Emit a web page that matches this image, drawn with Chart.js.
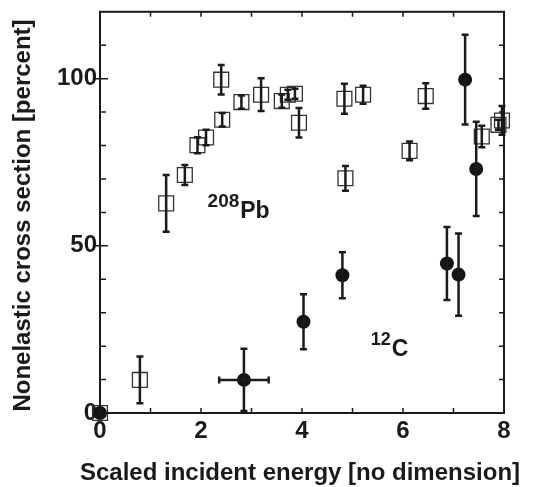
<!DOCTYPE html>
<html>
<head>
<meta charset="utf-8">
<script src="https://cdn.jsdelivr.net/npm/chart.js@4/dist/chart.umd.min.js"></script>
<style>
  html, body { margin: 0; padding: 0; background: #fff; }
  canvas { display: block; }
</style>
</head>
<body>
<canvas id="bieuDo" width="535" height="487"></canvas>
<script>
// 208Pb (o vuong rong)
const pbX   = [0, 0.79, 1.31, 1.68, 1.93, 2.10, 2.40, 2.42, 2.80, 3.19, 3.60, 3.72, 3.86, 3.94, 4.84, 4.86, 5.21, 6.13, 6.45, 7.56, 7.89, 7.96];
const pbY   = [0, 9.9, 62.7, 71.2, 80.1, 82.4, 99.7, 87.7, 93.0, 95.2, 93.3, 95.2, 95.5, 86.8, 94.0, 70.2, 95.2, 78.4, 94.8, 82.7, 86.2, 87.5];
const pbErr = [0, 7, 8.5, 3, 2.4, 2.3, 4.4, 2, 2, 4.9, 2, 1.5, 1.5, 4.4, 4.5, 3.7, 2.7, 2.8, 3.8, 3.2, 1.5, 4.3];

// 12C (hinh tron dac)
const cX    = [0, 2.85, 4.03, 4.80, 6.87, 7.10, 7.23, 7.45];
const cY    = [0, 9.9, 27.3, 41.2, 44.7, 41.4, 99.7, 73.0];
const cErr  = [0, 9.3, 8.2, 6.9, 10.9, 12.3, 13.4, 14.1];
const cXErr = [0, 0.49, 0, 0, 0, 0, 0, 0];

// nhan tren truc
const xTickLabels = [0, 2, 4, 6, 8];
const yTickLabels = [0, 50, 100];
const tieuDeX = 'Scaled incident energy [no dimension]';
const tieuDeY = 'Nonelastic cross section [percent]';

// nhan ten hat nhan: vi tri theo toa do du lieu
const nhan = [
  { x: 2.13, y: 61.5, sup: '208', main: 'Pb', supSize: 19, mainSize: 23 },
  { x: 5.36, y: 20.2, sup: '12', main: 'C', supSize: 18, mainSize: 23 }
];

const FONT = '"Liberation Sans", Arial, Helvetica, sans-serif';
const MAU = '#1a1a1a';

function ghep(xs, ys, ex, ey) {
  return xs.map((x, i) => ({ x: x, y: ys[i], ex: ex ? ex[i] : 0, ey: ey[i] }));
}

// ve thanh sai so
const thanhSaiSo = {
  id: 'thanhSaiSo',
  afterDatasetsDraw(chart) {
    const ctx = chart.ctx;
    const sx = chart.scales.x, sy = chart.scales.y;
    ctx.save();
    ctx.strokeStyle = MAU;
    ctx.lineWidth = 2.5;
    const cap = 3.5;
    chart.data.datasets.forEach(ds => {
      ds.data.forEach(p => {
        const px = sx.getPixelForValue(p.x);
        const py = sy.getPixelForValue(p.y);
        if (p.ey > 0) {
          const y1 = sy.getPixelForValue(p.y + p.ey);
          const y2 = sy.getPixelForValue(p.y - p.ey);
          ctx.beginPath();
          ctx.moveTo(px, y1); ctx.lineTo(px, y2);
          ctx.moveTo(px - cap, y1); ctx.lineTo(px + cap, y1);
          ctx.moveTo(px - cap, y2); ctx.lineTo(px + cap, y2);
          ctx.stroke();
        }
        if (p.ex > 0) {
          const x1 = sx.getPixelForValue(p.x - p.ex);
          const x2 = sx.getPixelForValue(p.x + p.ex);
          ctx.beginPath();
          ctx.moveTo(x1, py); ctx.lineTo(x2, py);
          ctx.moveTo(x1, py - cap); ctx.lineTo(x1, py + cap);
          ctx.moveTo(x2, py - cap); ctx.lineTo(x2, py + cap);
          ctx.stroke();
        }
      });
    });
    ctx.restore();
  }
};

// khung, vach chia huong vao trong, tieu de va nhan
const khung = {
  id: 'khung',
  afterDraw(chart) {
    const ctx = chart.ctx;
    const a = chart.chartArea;
    const sx = chart.scales.x, sy = chart.scales.y;
    ctx.save();
    ctx.strokeStyle = MAU;
    ctx.lineWidth = 2;
    ctx.strokeRect(a.left, a.top, a.right - a.left, a.bottom - a.top);
    ctx.lineWidth = 1.5;
    ctx.beginPath();
    sx.ticks.forEach(t => {
      const px = sx.getPixelForValue(t.value);
      if (t.value <= 0 || t.value >= 8) return;
      const len = 5;
      ctx.moveTo(px, a.bottom); ctx.lineTo(px, a.bottom - len);
      ctx.moveTo(px, a.top); ctx.lineTo(px, a.top + len);
    });
    sy.ticks.forEach(t => {
      const py = sy.getPixelForValue(t.value);
      if (t.value <= 0 || t.value >= 120) return;
      const major = t.value % 50 === 0;
      ctx.moveTo(a.left - (major ? 5 : 0), py); ctx.lineTo(a.left + (major ? 8 : 6), py);
      ctx.moveTo(a.right, py); ctx.lineTo(a.right - 5, py);
    });
    ctx.stroke();

    ctx.fillStyle = MAU;
    ctx.textBaseline = 'alphabetic';
    ctx.textAlign = 'left';
    nhan.forEach(n => {
      const px = sx.getPixelForValue(n.x);
      const py = sy.getPixelForValue(n.y);
      ctx.font = 'bold ' + n.supSize + 'px ' + FONT;
      ctx.fillText(n.sup, px, py);
      const w = ctx.measureText(n.sup).width;
      ctx.font = 'bold ' + n.mainSize + 'px ' + FONT;
      ctx.fillText(n.main, px + w + 1, py + 11);
    });

    // tieu de truc
    ctx.font = 'bold 24px ' + FONT;
    ctx.textAlign = 'center';
    ctx.fillText(tieuDeX, 300, 480);
    ctx.translate(30, 215.5);
    ctx.rotate(-Math.PI / 2);
    ctx.fillText(tieuDeY, 0, 0);
    ctx.restore();
  }
};

new Chart(document.getElementById('bieuDo').getContext('2d'), {
  type: 'scatter',
  data: {
    datasets: [
      {
        label: '208Pb',
        data: ghep(pbX, pbY, null, pbErr),
        pointStyle: 'rect',
        pointRadius: 10.5,
        pointBorderWidth: 1.3,
        pointBorderColor: '#333',
        pointBackgroundColor: 'rgba(255,255,255,0)',
        clip: false
      },
      {
        label: '12C',
        data: ghep(cX, cY, cXErr, cErr),
        pointStyle: 'circle',
        pointRadius: 7,
        pointBorderWidth: 0,
        pointBackgroundColor: '#151515',
        clip: false
      }
    ]
  },
  options: {
    responsive: false,
    animation: false,
    layout: { padding: { top: 10, right: 31, left: 0, bottom: 0 } },
    plugins: { legend: { display: false }, tooltip: { enabled: false } },
    scales: {
      x: {
        type: 'linear',
        min: 0, max: 8,
        grid: { display: false, drawTicks: false },
        border: { display: false },
        ticks: {
          stepSize: 1,
          padding: 4,
          color: MAU,
          font: { family: FONT, size: 24, weight: 'bold' },
          callback: v => xTickLabels.includes(v) ? String(v) : ''
        },
        afterFit(s) { s.height = 74; s.paddingLeft = 0; s.paddingRight = 0; }
      },
      y: {
        type: 'linear',
        min: 0, max: 120,
        grid: { display: false, drawTicks: false },
        border: { display: false },
        ticks: {
          stepSize: 10,
          padding: 3,
          color: MAU,
          font: { family: FONT, size: 24, weight: 'bold' },
          callback: v => yTickLabels.includes(v) ? String(v) : ''
        },
        afterFit(s) { s.width = 100; s.paddingTop = 0; s.paddingBottom = 0; }
      }
    }
  },
  plugins: [thanhSaiSo, khung]
});
</script>
</body>
</html>
